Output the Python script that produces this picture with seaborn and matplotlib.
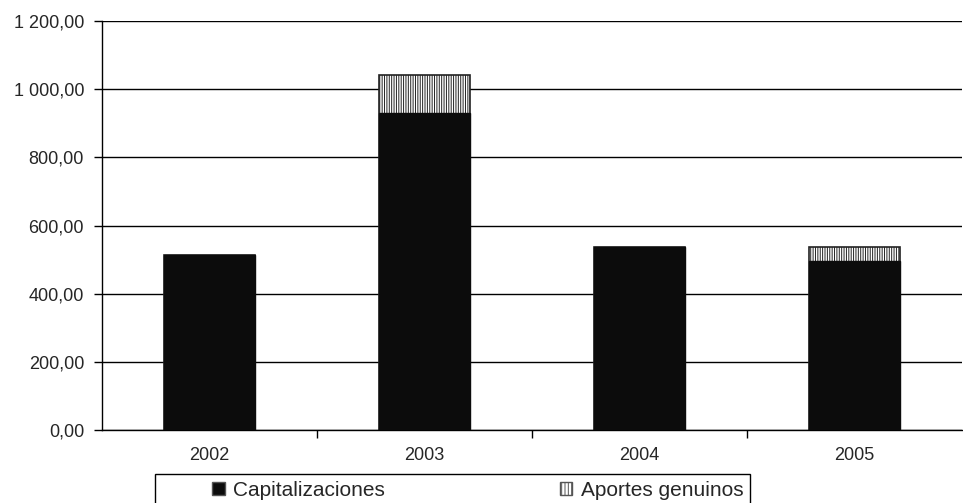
import pandas as pd
import numpy as np
import seaborn as sns
import matplotlib.pyplot as plt
from matplotlib.patches import Patch, Rectangle

# Values
years = ["2002", "2003", "2004", "2005"]
capitalizaciones = [515, 930, 538, 495]
aportes_genuinos = [0, 111, 0, 42]
y_ticks = [0, 200, 400, 600, 800, 1000, 1200]
y_tick_labels = ["0,00", "200,00", "400,00", "600,00", "800,00", "1 000,00", "1 200,00"]

df = pd.DataFrame({"year": years,
                   "cap": capitalizaciones,
                   "total": np.array(capitalizaciones) + np.array(aportes_genuinos)})

sns.set_style("white")
plt.rcParams["font.family"] = ["Liberation Sans", "DejaVu Sans"]
plt.rcParams["hatch.color"] = "#cfcfcf"
plt.rcParams["hatch.linewidth"] = 0.7

fig = plt.figure(figsize=(9.63, 5.03), dpi=100)
ax = fig.add_axes([0.106, 0.145, 0.893, 0.813])

# grid first, under the bars
for t in y_ticks:
    ax.axhline(t, color="black", lw=1, zorder=0)

# top part (total) drawn first, then black capitalizaciones on top
sns.barplot(data=df, x="year", y="total", color="white", width=0.42,
            edgecolor="#222222", linewidth=1.2, hatch="|||||||", saturation=1,
            ax=ax, zorder=2)
sns.barplot(data=df, x="year", y="cap", color="#0c0c0c", width=0.42,
            edgecolor="#0c0c0c", linewidth=1, saturation=1, ax=ax, zorder=3)

ax.set_ylim(0, 1200)
ax.set_xlim(-0.5, 3.5)
ax.set_yticks(y_ticks)
ax.set_yticklabels(y_tick_labels, fontsize=13)
ax.set_xlabel("")
ax.set_ylabel("")
ax.tick_params(axis="x", length=0, labelsize=13, pad=12)
ax.tick_params(axis="y", left=True, length=6, width=1, color="black", pad=7)

# category divider ticks on the x axis
ax.set_xticks([0.5, 1.5, 2.5], minor=True)
ax.tick_params(axis="x", which="minor", bottom=True, length=6, width=1, color="black")

for side in ["top", "right"]:
    ax.spines[side].set_visible(False)
for side in ["left", "bottom"]:
    ax.spines[side].set_color("black")
    ax.spines[side].set_linewidth(1)

# legend box (cut off by the bottom edge, as in the original)
fig.add_artist(Rectangle((155 / 963, -0.05), (750 - 155) / 963, 0.05 + 1 - 474 / 503,
                         transform=fig.transFigure, facecolor="white",
                         edgecolor="black", linewidth=1))

handles = [Patch(facecolor="#0c0c0c", edgecolor="#555555", label="Capitalizaciones"),
           Patch(facecolor="white", edgecolor="#555555", hatch="|||||", label="Aportes genuinos")]
leg = fig.legend(handles=handles, loc="center left", bbox_to_anchor=(212 / 963, 1 - 490 / 503),
                 ncol=2, fontsize=15, frameon=False,
                 handlelength=0.6, handleheight=0.6, handletextpad=0.4,
                 columnspacing=8.4, borderpad=0, borderaxespad=0)

fig.savefig("out.png", dpi=100)
